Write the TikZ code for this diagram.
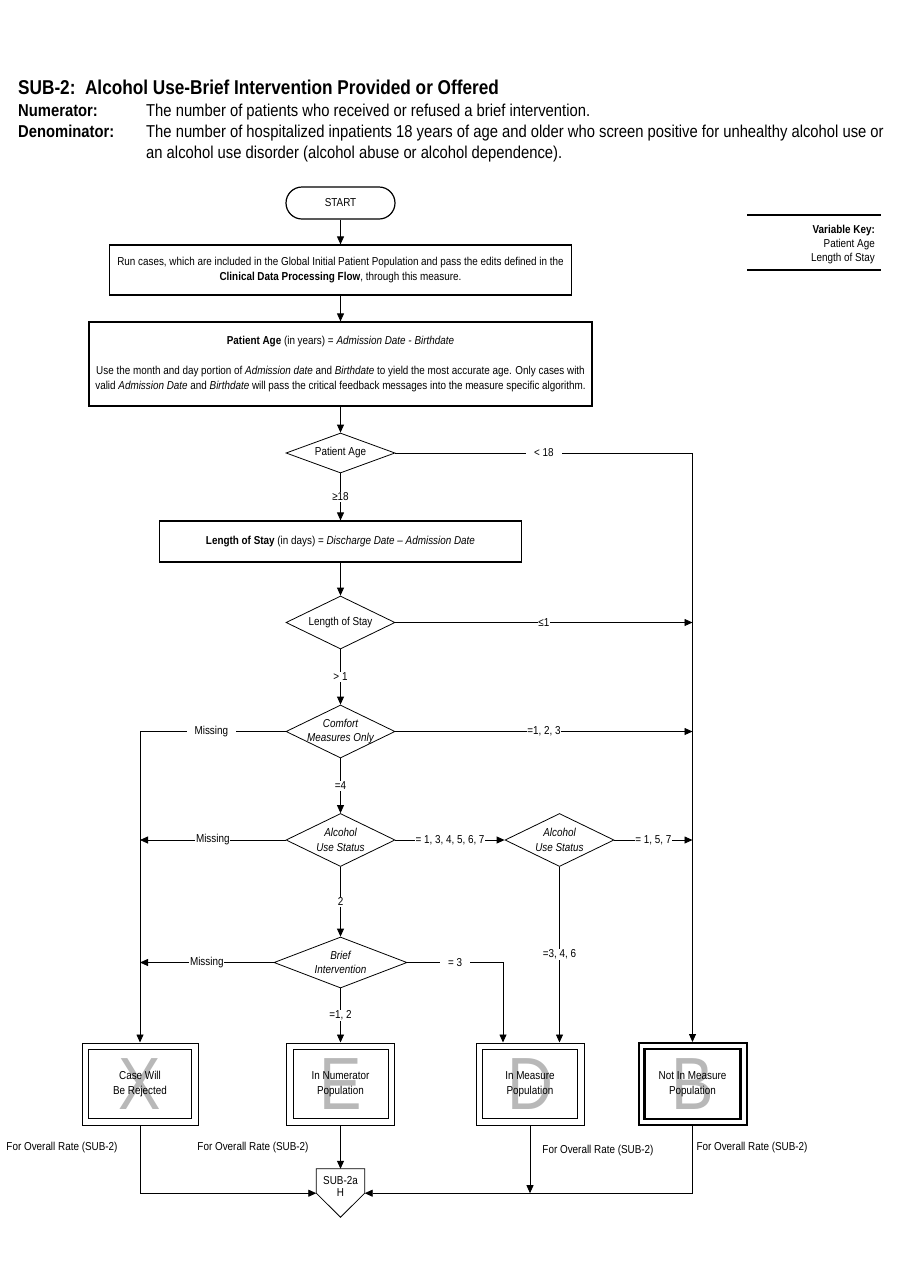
\documentclass[tikz,border=0pt]{standalone}
\usepackage{fontspec}
\setmainfont{Liberation Sans}[FakeStretch=0.86]
\usetikzlibrary{arrows.meta}
\usetikzlibrary{shapes.geometric}
\definecolor{lettergray}{rgb}{0.72, 0.72, 0.72}

\tikzset{
  txt/.style={font=\fontsize{11.5}{15}\selectfont, inner sep=1pt},
  hdr/.style={font=\fontsize{17.2}{21}\selectfont, anchor=base west, inner sep=0},
  hdrb/.style={hdr, font=\fontsize{17.2}{21}\selectfont\bfseries},
  box/.style={draw, line width=1.2pt, txt, align=center},
  startbox/.style={box, rounded corners=16pt, minimum width=109, minimum height=32},
  dia/.style={diamond, draw, line width=0.8pt, minimum width=109, minimum height=53, inner sep=0},
  dlab/.style={font=\fontsize{11.5}{14.5}\selectfont, align=center, inner sep=0},
  dlabi/.style={dlab, font=\fontsize{11.5}{14.5}\selectfont\itshape},
  endbox/.style={draw, line width=1pt, minimum width=108, minimum height=82, txt, align=center},
  nimbox/.style={endbox, line width=2pt},
  bigletter/.style={font=\fontsize{74}{74}\selectfont, text=lettergray, inner sep=0},
  line/.style={draw, line width=0.8pt},
  arr/.style={line, -{Triangle[length=8pt, width=7pt]}},
  lab/.style={txt, fill=white, inner sep=0.8pt},
  labgap/.style={lab, inner xsep=8pt}
}

\begin{document}
\begin{tikzpicture}[x=1pt, y=-1pt]
  \useasboundingbox (0,0) rectangle (900,1286);

  % heading
  \node[hdr, font=\fontsize{20}{24}\selectfont\bfseries] (ttl) at (18,94) {SUB-2:\ \ Alcohol Use-Brief Intervention Provided or Offered};
  \node[hdrb] (numl) at (18,116.5) {Numerator:};
  \node[hdr] (numt) at (146,116.5) {The number of patients who received or refused a brief intervention.};
  \node[hdrb] (denl) at (18,137.5) {Denominator:};
  \node[hdr] (dent) at (146,137.5) {The number of hospitalized inpatients 18 years of age and older who screen positive for unhealthy alcohol use or};
  \node[hdr] (dentb) at (146,158.5) {an alcohol use disorder (alcohol abuse or alcohol dependence).};

  % variable key
  \draw[line width=1.5pt] (747,215) -- (881,215);
  \draw[line width=1.5pt] (747,270) -- (881,270);
  \node[txt, anchor=base east, font=\fontsize{11.5}{14}\selectfont\bfseries] (vk) at (876,233) {Variable Key:};
  \node[txt, anchor=base east] (vka) at (876,247) {Patient Age};
  \node[txt, anchor=base east] (vkl) at (876,261) {Length of Stay};

  % main column
  \node[startbox] (start) at (340.5,203) {START};
  \node[box, minimum width=462, minimum height=50] (run) at (340.5,270)
    {Run cases, which are included in the Global Initial Patient Population and pass the edits defined in the\\
     \textbf{Clinical Data Processing Flow}, through this measure.};
  \node[box, minimum width=503, minimum height=84] (agebox) at (340.5,364)
    {\textbf{Patient Age} (in years) = \textit{Admission Date - Birthdate}\\[14.5pt]
     Use the month and day portion of \textit{Admission date} and \textit{Birthdate} to yield the most accurate age. Only cases with\\
     valid \textit{Admission Date} and \textit{Birthdate} will pass the critical feedback messages into the measure specific algorithm.};
  \node[dia, minimum height=40, label={[dlab]center:Patient Age}] (pa) at (340.5,453) {};
  \node[box, minimum width=362, minimum height=41] (losbox) at (340.5,541.5)
    {\textbf{Length of Stay} (in days) = \textit{Discharge Date -- Admission Date}};
  \node[dia, label={[dlab]center:Length of Stay}] (los) at (340.5,622.5) {};
  \node[dia, label={[dlabi]center:Comfort\\Measures Only}] (cmo) at (340.5,731.5) {};
  \node[dia, label={[dlabi]center:Alcohol\\Use Status}] (aus) at (340.5,840) {};
  \node[dia, label={[dlabi]center:Alcohol\\Use Status}] (aus2) at (559.5,840) {};
  \node[dia, minimum width=133, minimum height=51, label={[dlabi]center:Brief\\Intervention}] (bi) at (340.5,962.5) {};

  % outcomes
  \node[bigletter] (xl) at (140,1084) {X};
  \node[bigletter] (el) at (340.5,1084) {E};
  \node[bigletter] (dl) at (530,1084) {D};
  \node[bigletter] (bl) at (692.5,1084) {B};
  \node[endbox, minimum width=116] (xbox) at (140,1084) {Case Will\\Be Rejected};
  \node[endbox] (ebox) at (340.5,1084) {In Numerator\\Population};
  \node[endbox] (dbox) at (530,1084) {In Measure\\Population};
  \node[nimbox] (bbox) at (692.5,1084) {Not In Measure\\Population};
  \foreach \b in {xbox, ebox, dbox}
    \draw[line] ([shift={(7pt,-7pt)}]\b.north west) rectangle ([shift={(-7pt,7pt)}]\b.south east);
  \draw[line width=2.4pt] ([shift={(7pt,-7pt)}]bbox.north west) rectangle ([shift={(-7pt,7pt)}]bbox.south east);

  % off-page connector
  \node[minimum width=48, minimum height=24, inner sep=0] (sub) at (340.5,1181) {};
  \draw[line] (sub.south west) -- (sub.north west) -- (sub.north east) -- (sub.south east)
    -- ([yshift=-24pt]sub.south) -- cycle;
  \node[txt, font=\fontsize{11.5}{12}\selectfont, align=center] (subt) at ([yshift=-5pt]sub.center) {SUB-2a\\H};

  \node[txt] (or1) at (62,1148) {For Overall Rate (SUB-2)};
  \node[txt] (or2) at (253,1148) {For Overall Rate (SUB-2)};
  \node[txt] (or3) at (598,1151) {For Overall Rate (SUB-2)};
  \node[txt] (or4) at (752,1148) {For Overall Rate (SUB-2)};

  % connectors
  \draw[arr] (start.south) -- (run.north);
  \draw[arr] (run.south) -- (agebox.north);
  \draw[arr] (agebox.south) -- (pa.north);
  \draw[arr] (pa.south) -- node[lab] {≥18} (losbox.north);
  \draw[arr] (pa.east) -| node[labgap, pos=0.25] {< 18} (bbox.north);
  \draw[arr] (losbox.south) -- (los.north);
  \draw[arr] (los.east) -- node[lab] {≤1} (los.east -| bbox.north);
  \draw[arr] (los.south) -- node[lab] {> 1} (cmo.north);
  \draw[arr] (cmo.west) -| node[labgap, pos=0.255] {Missing} (xbox.north);
  \draw[arr] (cmo.east) -- node[lab] {=1, 2, 3} (cmo.east -| bbox.north);
  \draw[arr] (cmo.south) -- node[lab] {=4} (aus.north);
  \draw[arr] (aus.west) -- node[lab] {Missing} (aus.west -| xbox.north);
  \draw[arr] (aus.east) -- node[lab] {= 1, 3, 4, 5, 6, 7} (aus2.west);
  \draw[arr] (aus2.east) -- node[lab] {= 1, 5, 7} (aus2.east -| bbox.north);
  \draw[arr] (aus2.south) -- node[lab] {=3, 4, 6} (aus2.south |- dbox.north);
  \draw[arr] (aus.south) -- node[lab] {2} (bi.north);
  \draw[arr] (bi.west) -- node[lab] {Missing} (bi.west -| xbox.north);
  \draw[arr] (bi.east) -| node[labgap, pos=0.25] {= 3} ([xshift=-27pt]dbox.north);
  \draw[arr] (bi.south) -- node[lab] {=1, 2} (ebox.north);

  \draw[arr] (xbox.south) |- (sub.south west);
  \draw[arr] (ebox.south) -- (sub.north);
  \draw[arr] (dbox.south) -- (dbox.south |- sub.south);
  \draw[arr] (bbox.south) |- (sub.south east);
\end{tikzpicture}
\end{document}
